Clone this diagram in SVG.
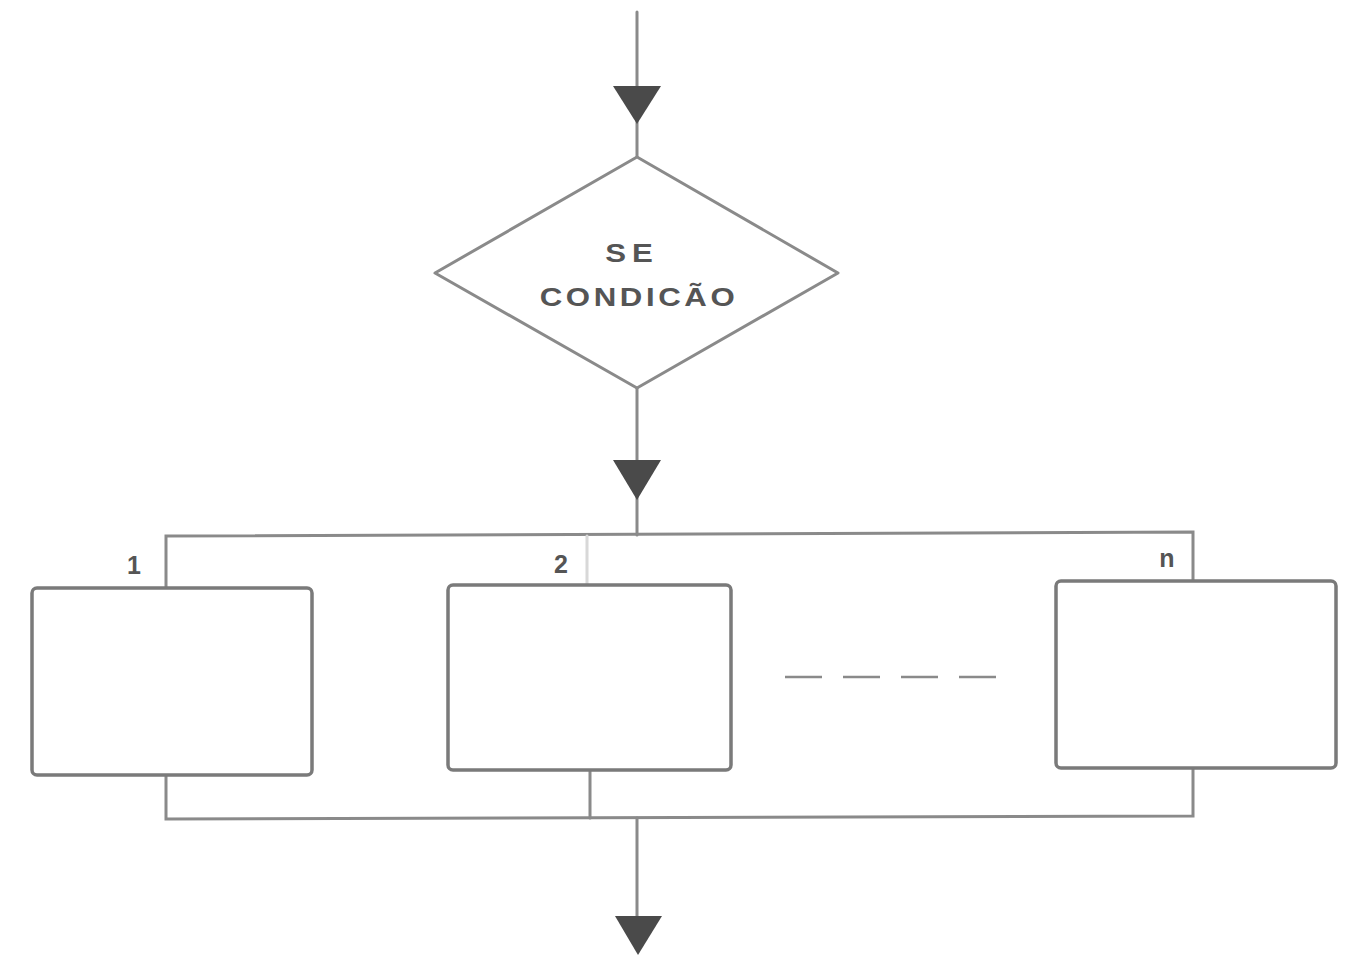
<svg xmlns="http://www.w3.org/2000/svg" width="1367" height="958" viewBox="0 0 1367 958">
<style>
.ln{stroke:#8a8a8a;stroke-width:3;fill:none;stroke-linecap:round}
.box{stroke:#7a7a7a;stroke-width:3.5;fill:#ffffff}
.arr{fill:#4a4a4a}
.t{font-family:"Liberation Sans",Arial,sans-serif;font-weight:bold;fill:#555555}
</style>
<rect width="1367" height="958" fill="#ffffff"/>
<g id="connectors">
<line class="ln" x1="637" y1="12" x2="637" y2="157"/>
<polygon class="arr" points="613,86 661,86 637,124"/>
<line class="ln" x1="637" y1="388" x2="637" y2="535"/>
<polygon class="arr" points="613,460 661,460 637,500"/>
<polyline class="ln" points="166,588 166,536 1193,532 1193,581"/>
<line class="ln" x1="587" y1="536" x2="587" y2="585" style="stroke:#d8d8d8"/>
<polyline class="ln" points="166,775 166,819 1193,816 1193,768"/>
<line class="ln" x1="590" y1="770" x2="590" y2="818"/>
<line class="ln" x1="637" y1="818" x2="637" y2="917"/>
<polygon class="arr" points="615,916 662,916 638,955"/>
<line class="ln" x1="785" y1="677" x2="1003" y2="677" stroke-dasharray="37 21" style="stroke-linecap:butt;stroke-width:2.5"/>
</g>
<g id="decision">
<polygon points="637,157 838,273 637,388 435,273" style="stroke:#8a8a8a;stroke-width:3;fill:#ffffff;stroke-linejoin:round"/>
<text class="t" transform="translate(632,262) scale(1.2,1)" font-size="26" text-anchor="middle" letter-spacing="5">SE</text>
<text class="t" transform="translate(639,306) scale(1.2,1)" font-size="26" text-anchor="middle" letter-spacing="3">CONDICÃO</text>
</g>
<g id="box1">
<rect class="box" x="32" y="588" width="280" height="187" rx="5"/>
<text class="t" x="134" y="574" font-size="25" text-anchor="middle">1</text>
</g>
<g id="box2">
<rect class="box" x="448" y="585" width="283" height="185" rx="5"/>
<text class="t" x="561" y="573" font-size="25" text-anchor="middle">2</text>
</g>
<g id="boxn">
<rect class="box" x="1056" y="581" width="280" height="187" rx="5"/>
<text class="t" x="1167" y="567" font-size="25" text-anchor="middle">n</text>
</g>
</svg>
